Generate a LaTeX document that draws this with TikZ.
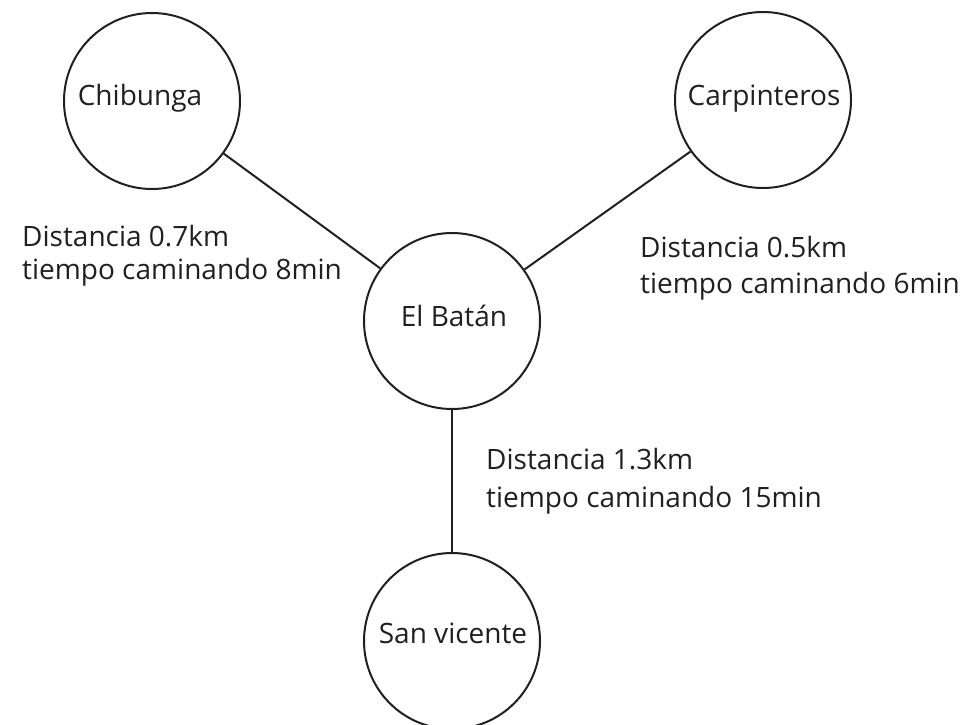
\documentclass[tikz,border=0pt]{standalone}
\usepackage{fontspec}
\setmainfont{Open Sans}
\definecolor{ink}{HTML}{231F20}
\begin{document}
\begin{tikzpicture}[x=1pt,y=-1pt,
  town/.style={circle,draw=ink,line width=2pt,minimum size=176pt,inner sep=0pt},
  townname/.style={anchor=base,inner sep=0pt,text=ink,font=\fontsize{28}{34}\selectfont},
  info/.style={anchor=base west,inner sep=0pt,text=ink,align=left},
  link/.style={draw=ink,line width=2pt}]
\useasboundingbox (0,0) rectangle (979,724);
\node[town] (chi) at (152,101) {};
\node[town] (car) at (763,100) {};
\node[town] (bat) at (452,321) {};
\node[town] (san) at (452,641) {};
\node[townname] (chiT) at (140,105) {Chibunga};
\node[townname] (carT) at (764,105) {Carpinteros};
\node[townname] (batT) at (454,326) {El Batán};
\node[townname] (sanT) at (453,643) {San vicente};
\draw[link] (chi) -- (bat);
\draw[link] (car) -- (bat);
\draw[link] (bat) -- (san);
\node[info,font=\fontsize{28}{33}\selectfont] (i1) at (22,279) {Distancia 0.7km\\tiempo caminando 8min};
\node[info,font=\fontsize{28}{36}\selectfont] (i2) at (640,293) {Distancia 0.5km\\tiempo caminando 6min};
\node[info,font=\fontsize{28}{38}\selectfont] (i3) at (486,507) {Distancia 1.3km\\tiempo caminando 15min};
\end{tikzpicture}
\end{document}
